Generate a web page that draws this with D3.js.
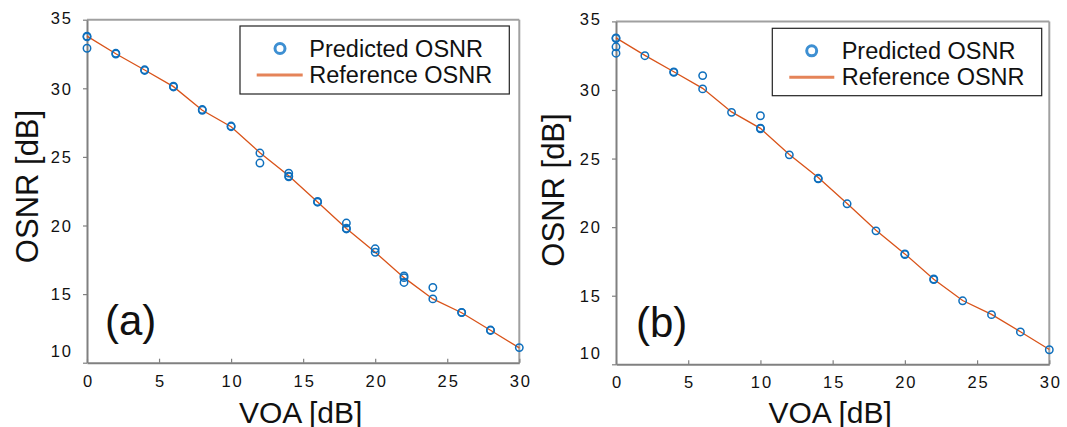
<!DOCTYPE html>
<html>
<head>
<meta charset="utf-8">
<script src="https://cdn.jsdelivr.net/npm/d3@7"></script>
<style>
  html, body { margin: 0; padding: 0; background: #fff; }
  svg { display: block; font-family: Arial, "Liberation Sans", Helvetica, sans-serif; }
</style>
</head>
<body>
<svg id="chart" width="1067" height="427"></svg>
<script>
// ---------------- data ----------------
const voa = [0, 2, 4, 6, 8, 10, 12, 14, 16, 18, 20, 22, 24, 26, 28, 30];
const referenceOSNR = [33.8, 32.52, 31.33, 30.12, 28.4, 27.2, 25.3, 23.62, 21.72, 19.78, 18.05, 16.2, 14.65, 13.64, 12.37, 11.08];
const predictedA = [
  [33.8, 33.75, 32.92],
  [32.55, 32.5],
  [31.35, 31.3],
  [30.15, 30.1],
  [28.45, 28.4],
  [27.25, 27.2],
  [25.28, 24.55],
  [23.82, 23.55, 23.6],
  [21.75, 21.7],
  [20.18, 19.75, 19.8],
  [18.3, 18.05],
  [16.32, 15.85, 16.2],
  [15.48, 14.65],
  [13.67, 13.65],
  [12.38, 12.35],
  [11.1]
];
const predictedB = [
  [33.8, 33.75, 33.15, 32.68],
  [32.5],
  [31.32, 31.28],
  [31.05, 30.08],
  [28.37],
  [28.12, 27.22, 27.17],
  [25.27],
  [23.52, 23.56],
  [21.7],
  [19.73],
  [18.0, 18.05],
  [16.22, 16.17],
  [14.63],
  [13.62],
  [12.36],
  [11.06]
];
const xTicks = [0, 5, 10, 15, 20, 25, 30];
const yTicks = [10, 15, 20, 25, 30, 35];
const xLabel = "VOA [dB]";
const yLabel = "OSNR [dB]";
const legendLabels = ["Predicted OSNR", "Reference OSNR"];
const panelTags = ["(a)", "(b)"];

// ---------------- drawing ----------------
const svg = d3.select("#chart");
const BLUE = "#0e6fbd";
const ORANGE = "#d95319";

function drawPanel(box, predicted, tag, leg) {
  const x = d3.scaleLinear().domain([0, 30]).range([box.x0, box.x1]);
  const y = d3.scaleLinear().domain([10, 35]).range([box.y1, box.y0]);
  const g = svg.append("g");

  // top & right frame lines
  g.append("line").attr("x1", box.x0).attr("x2", box.x1).attr("y1", box.y0).attr("y2", box.y0)
    .attr("stroke", "#a0a0a0").attr("stroke-width", 2);
  g.append("line").attr("x1", box.x1).attr("x2", box.x1).attr("y1", box.y0).attr("y2", box.y1)
    .attr("stroke", "#a0a0a0").attr("stroke-width", 2);

  // x axis (ticks inside)
  const xa = g.append("g").attr("transform", `translate(0,${box.y1})`)
    .call(d3.axisBottom(x).tickValues(xTicks).tickSizeInner(-4).tickSizeOuter(0).tickPadding(0));
  xa.select(".domain").attr("stroke", "#808080").attr("stroke-width", 2);
  xa.selectAll(".tick line").attr("stroke", "#808080").attr("stroke-width", 1.2);
  xa.selectAll(".tick text").attr("font-size", 16.5).attr("font-family", "Arial, 'Liberation Sans', sans-serif")
    .attr("letter-spacing", 2).attr("fill", "#111").attr("dy", null).attr("dx", 1).attr("y", 24);

  // y axis (ticks outside)
  const ya = g.append("g").attr("transform", `translate(${box.x0},0)`)
    .call(d3.axisLeft(y).tickValues(yTicks).tickSizeInner(4).tickSizeOuter(0).tickPadding(0));
  ya.select(".domain").attr("stroke", "#808080").attr("stroke-width", 2);
  ya.selectAll(".tick line").attr("stroke", "#808080").attr("stroke-width", 1.2);
  ya.selectAll(".tick text").attr("font-size", 16.5).attr("font-family", "Arial, 'Liberation Sans', sans-serif")
    .attr("letter-spacing", 2).attr("fill", "#111").attr("x", -14)
    .attr("dy", d => d === 10 ? "-0.35em" : (d === 35 ? "0.2em" : "0.35em"));

  // reference line
  const line = d3.line().x((d, i) => x(voa[i])).y(d => y(d));
  g.append("path").datum(referenceOSNR).attr("d", line)
    .attr("fill", "none").attr("stroke", ORANGE).attr("stroke-width", 1.3);

  // predicted points
  const pts = [];
  predicted.forEach((arr, i) => arr.forEach(v => pts.push([voa[i], v])));
  g.selectAll("circle.pt").data(pts).join("circle").attr("class", "pt")
    .attr("cx", d => x(d[0])).attr("cy", d => y(d[1])).attr("r", 3.7)
    .attr("fill", "none").attr("stroke", BLUE).attr("stroke-width", 1.5);

  // axis labels
  g.append("text").attr("x", (box.x0 + box.x1) / 2 - 2.5).attr("y", 422.5)
    .attr("text-anchor", "middle").attr("font-size", 30).attr("fill", "#111").text(xLabel);
  g.append("text").attr("transform", `translate(${box.ylx},${box.ylc}) rotate(-90)`)
    .attr("text-anchor", "middle").attr("font-size", 31).attr("fill", "#111").text(yLabel);

  // panel tag
  g.append("text").attr("x", tag.x).attr("y", tag.y).attr("font-size", 42).attr("fill", "#111").text(tag.text);

  // legend
  const lg = g.append("g");
  lg.append("rect").attr("x", leg.x0).attr("y", leg.y0).attr("width", leg.x1 - leg.x0).attr("height", leg.y1 - leg.y0)
    .attr("fill", "#fff").attr("stroke", "#222").attr("stroke-width", 1.2);
  lg.append("circle").attr("cx", leg.mx).attr("cy", leg.y0 + 22.5).attr("r", 5)
    .attr("fill", "none").attr("stroke", "#3d8fd2").attr("stroke-width", 3);
  lg.append("line").attr("x1", leg.lx0).attr("x2", leg.lx1).attr("y1", leg.y0 + 49).attr("y2", leg.y0 + 49)
    .attr("stroke", "#e58459").attr("stroke-width", 3);
  lg.append("text").attr("x", leg.tx).attr("y", leg.y0 + 31).attr("font-size", 23.5).attr("fill", "#111").text(legendLabels[0]);
  lg.append("text").attr("x", leg.tx).attr("y", leg.y0 + 57).attr("font-size", 23.5).attr("fill", "#111").text(legendLabels[1]);
}

drawPanel({ x0: 87, x1: 519.3, y0: 19.7, y1: 362.7, ylx: 37.5, ylc: 186.5 }, predictedA,
  { x: 105, y: 335, text: panelTags[0] },
  { x0: 240, x1: 509.3, y0: 26, y1: 94, mx: 280, lx0: 256.7, lx1: 302.7, tx: 309.3 });
drawPanel({ x0: 616, x1: 1049.3, y0: 21.4, y1: 364.3, ylx: 563.5, ylc: 190 }, predictedB,
  { x: 636, y: 337, text: panelTags[1] },
  { x0: 772.3, x1: 1041.7, y0: 28.3, y1: 95.7, mx: 811.7, lx0: 789.3, lx1: 834.3, tx: 841.7 });
</script>
</body>
</html>
